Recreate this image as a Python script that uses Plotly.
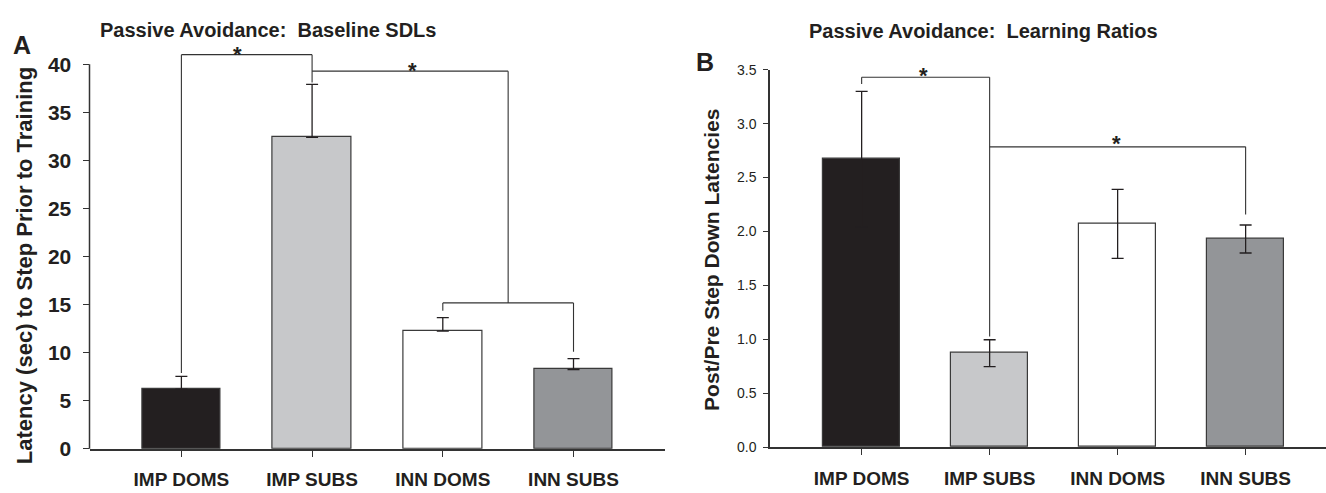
import plotly.graph_objects as go

# ---------------- data ----------------
categories = ["IMP DOMS", "IMP SUBS", "INN DOMS", "INN SUBS"]
positions = [0, 1, 2, 3]
bar_colors = ["#231f20", "#c7c8ca", "#ffffff", "#939598"]

# Panel A: baseline step-down latency (sec), mean and SEM (upper only)
latency_mean = [6.2, 32.4, 12.25, 8.25]
latency_sem = [1.34, 5.5, 1.4, 1.13]

# Panel B: post/pre step-down latency ratio, mean and SEM
ratio_mean = [2.67, 0.87, 2.07, 1.93]
ratio_sem = [0.63, 0.125, 0.32, 0.13]

# significance brackets: (x_left, x_right, bar level, left leg end, right leg end)
brackets_a = [
    (0, 1, 41.0, 7.9, 38.1),
    (1, 2.5, 39.28, 39.28, 15.18),
    (2, 3, 15.18, 14.35, 10.1),
]
stars_a = [(0.43, 41.5), (1.77, 39.9)]

brackets_b = [
    (0, 1, 3.431, 3.369, 1.026),
    (1, 3, 2.785, 2.785, 2.157),
]
stars_b = [(0.48, 3.49), (1.99, 2.865)]

ticks_a = [0, 5, 10, 15, 20, 25, 30, 35, 40]
ticks_b = [0.0, 0.5, 1.0, 1.5, 2.0, 2.5, 3.0, 3.5]
ticks_b_text = [f"{v:.1f}" for v in ticks_b]

# ---------------- styles ----------------
FONT = "Liberation Sans, Arial, Helvetica, sans-serif"
INK = "#231f20"
AXIS = "#333333"
OUTLINE = "#3a3a3a"

ya_range = [0, 42]
ya_top = 40

fig = go.Figure()

fig.add_trace(go.Bar(
    x=positions, y=latency_mean, width=0.6,
    marker=dict(color=bar_colors, line=dict(color=OUTLINE, width=1.2)),
    error_y=dict(type="data", symmetric=False, array=latency_sem,
                 arrayminus=[0] * len(latency_sem),
                 color=INK, thickness=1.3, width=6),
    xaxis="x", yaxis="y", hoverinfo="skip",
))

fig.add_trace(go.Bar(
    x=positions, y=ratio_mean, width=0.6,
    marker=dict(color=bar_colors, line=dict(color=OUTLINE, width=1.2)),
    error_y=dict(type="data", symmetric=True, array=ratio_sem,
                 color=INK, thickness=1.3, width=6),
    xaxis="x2", yaxis="y2", hoverinfo="skip",
))

shapes = []

def add_brackets(brackets, xref, yref):
    for x0, x1, yb, yl, yr in brackets:
        line = dict(color=AXIS, width=1.1)
        shapes.append(dict(type="line", xref=xref, yref=yref, x0=x0, x1=x1, y0=yb, y1=yb, line=line))
        if yl != yb:
            shapes.append(dict(type="line", xref=xref, yref=yref, x0=x0, x1=x0, y0=yb, y1=yl, line=line))
        if yr != yb:
            shapes.append(dict(type="line", xref=xref, yref=yref, x0=x1, x1=x1, y0=yb, y1=yr, line=line))

add_brackets(brackets_a, "x", "y")
add_brackets(brackets_b, "x2", "y2")

# y-axis line of panel A stops at the top tick (40)
shapes.append(dict(type="line", xref="x domain", yref="y domain", x0=0, x1=0,
                   y0=0, y1=ya_top / ya_range[1], line=dict(color=AXIS, width=1.5)))

annotations = []
for sx, sy in stars_a:
    annotations.append(dict(x=sx, y=sy, xref="x", yref="y", text="*", showarrow=False,
                            yshift=-5, font=dict(family=FONT, size=22, color=INK, weight="bold")))
for sx, sy in stars_b:
    annotations.append(dict(x=sx, y=sy, xref="x2", yref="y2", text="*", showarrow=False,
                            yshift=-5, font=dict(family=FONT, size=22, color=INK, weight="bold")))

def pap(text, x, y, size, bold=True, angle=0):
    annotations.append(dict(
        text=text, x=x / 1326, y=1 - y / 493, xref="paper", yref="paper",
        xanchor="center", yanchor="middle", showarrow=False, textangle=angle,
        font=dict(family=FONT, size=size, color=INK, weight="bold" if bold else "normal")))

pap("Passive Avoidance:\u00a0 Baseline SDLs", 268, 23, 20)
pap("Passive Avoidance:\u00a0 Learning Ratios", 983, 24, 20)
pap("A", 22, 38.5, 25)
pap("B", 705, 56.3, 25)
pap("Latency (sec) to Step Prior to Training", 24, 268.5, 22, angle=-90)
pap("Post/Pre Step Down Latencies", 712, 262, 21, angle=-90)

common_x = dict(
    tickvals=positions, ticktext=categories, showline=True, linecolor=AXIS, linewidth=1.5,
    ticks="outside", ticklen=6, tickcolor=AXIS, tickwidth=1.3, showgrid=False, zeroline=False,
    ticklabelstandoff=7,
    tickfont=dict(family=FONT, size=19, color=INK, weight="bold"), fixedrange=True,
)

fig.update_layout(
    width=1326, height=493, margin=dict(l=0, r=0, t=0, b=0),
    paper_bgcolor="white", plot_bgcolor="white", showlegend=False, bargap=0,
    xaxis=dict(domain=[89.5 / 1326, 665 / 1326], range=[-0.703, 3.70], anchor="y", **common_x),
    yaxis=dict(domain=[1 - 458.5 / 493, 1 - 38.5 / 493], range=ya_range, anchor="x",
               tickvals=ticks_a, showline=False, ticks="outside", ticklen=6, tickcolor=AXIS,
               tickwidth=1.3, showgrid=False, zeroline=False, ticklabelstandoff=7,
               tickfont=dict(family=FONT, size=21, color=INK, weight="bold")),
    xaxis2=dict(domain=[770 / 1326, 1.0], range=[-0.716, 3.628], anchor="y2", **common_x),
    yaxis2=dict(domain=[1 - 456.6 / 493, 1 - 64.3 / 493], range=[0, 3.5], anchor="x2",
                tickvals=ticks_b, ticktext=ticks_b_text, showline=True, linecolor=AXIS, linewidth=1.5,
                ticks="outside", ticklen=5, tickcolor=AXIS, tickwidth=1.3, showgrid=False,
                zeroline=False, ticklabelstandoff=4,
                tickfont=dict(family=FONT, size=14, color=INK)),
    shapes=shapes, annotations=annotations,
)

fig.write_html("out.html")
